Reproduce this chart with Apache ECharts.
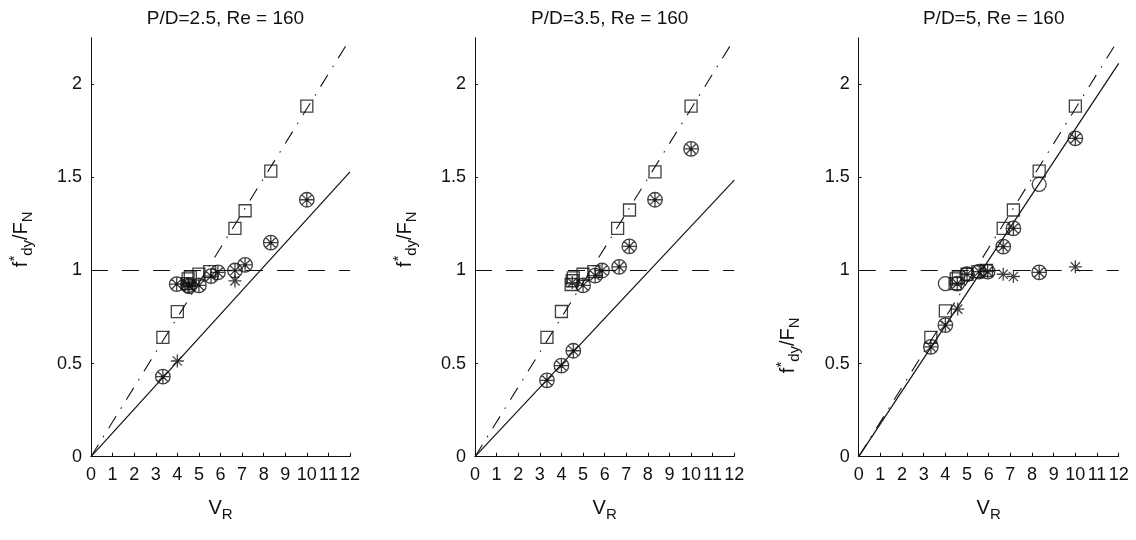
<!DOCTYPE html>
<html>
<head>
<meta charset="utf-8">
<script src="https://cdn.jsdelivr.net/npm/echarts@6/dist/echarts.min.js"></script>
<style>
html,body{margin:0;padding:0;background:#fff;}
#chart{width:1136px;height:540px;}
</style>
</head>
<body>
<div id="chart"></div>
<script>
// ---------- data ----------
const titles = ['P/D=2.5, Re = 160', 'P/D=3.5, Re = 160', 'P/D=5, Re = 160'];
const yTickValues = [0, 0.5, 1, 1.5, 2];

// open squares
const squares1 = [[3.33,0.641],[4.0,0.779],[4.45,0.93],[4.5,0.955],[4.6,0.965],[5.0,0.981],[5.5,0.994],[6.67,1.226],[7.14,1.321],[8.33,1.534],[10.0,1.883]];
const squares2 = [[3.33,0.641],[4.0,0.78],[4.45,0.925],[4.5,0.945],[4.55,0.96],[5.0,0.98],[5.5,0.994],[6.6,1.226],[7.15,1.325],[8.33,1.53],[10.0,1.883]];
const squares3 = [[3.33,0.641],[4.0,0.783],[4.45,0.93],[4.5,0.955],[4.6,0.965],[5.0,0.98],[5.5,0.994],[5.9,1.0],[6.67,1.226],[7.14,1.325],[8.33,1.534],[10.0,1.883]];

// circles with asterisk
const starCircles1 = [[3.33,0.43],[3.97,0.927],[4.5,0.92],[4.55,0.915],[5.0,0.92],[5.56,0.97],[5.88,0.99],[6.67,1.0],[7.14,1.03],[8.33,1.15],[10.0,1.38]];
const starCircles2 = [[3.33,0.41],[4.0,0.489],[4.55,0.569],[5.0,0.92],[5.56,0.973],[5.88,1.0],[6.67,1.02],[7.14,1.13],[8.33,1.38],[10.0,1.653]];
const starCircles3 = [[3.33,0.59],[4.0,0.707],[4.55,0.93],[5.0,0.98],[5.56,0.994],[5.95,0.994],[6.67,1.128],[7.14,1.226],[8.33,0.99],[10.0,1.71]];

// asterisks
const asterisks1 = [[4.0,0.514],[4.5,0.93],[6.67,0.944]];
const asterisks2 = [[4.5,0.935]];
const asterisks3 = [[4.57,0.793],[6.67,0.98],[7.14,0.968],[10.0,1.02]];

// open circles
const circles1 = [];
const circles2 = [];
const circles3 = [[4.0,0.93],[8.33,1.463]];

// reference lines: solid fit, dash-dot, and f*/FN = 1
const solidLine1 = [[0,0],[12,1.53]];
const solidLine2 = [[0,0],[12,1.486]];
const solidLine3 = [[0,0],[12,2.113]];
const dashDotLine = [[0,0],[12,2.243]];
const unityLine = [[0,1],[12,1]];

// ---------- chart ----------
const FONT = 'Liberation Sans, Arial, sans-serif';
const INK = '#111111';
const grids = [
  {left: 91, width: 259, top: 37.8, height: 418.9},
  {left: 475, width: 259.3, top: 37.8, height: 418.9},
  {left: 858.7, width: 260, top: 37.8, height: 418.9}
];

const STAR_CIRCLE = 'path://M10,0A10,10,0,1,1,10,20A10,10,0,1,1,10,0Z M10,0L10,20 M0,10L20,10 M2.93,2.93L17.07,17.07 M17.07,2.93L2.93,17.07';
const ASTERISK = 'path://M10,0L10,20 M0,10L20,10 M2.9,2.9L17.1,17.1 M17.1,2.9L2.9,17.1';

const panels = [
  {sq: squares1, sc: starCircles1, as: asterisks1, ci: circles1, solid: solidLine1},
  {sq: squares2, sc: starCircles2, as: asterisks2, ci: circles2, solid: solidLine2},
  {sq: squares3, sc: starCircles3, as: asterisks3, ci: circles3, solid: solidLine3}
];

const option = {
  backgroundColor: '#fff',
  animation: false,
  textStyle: {fontFamily: FONT, color: INK},
  title: grids.map((g, i) => ({
    text: titles[i],
    left: g.left + g.width / 2,
    textAlign: 'center',
    top: 4,
    textStyle: {fontFamily: FONT, fontSize: 19, fontWeight: 'normal', color: INK}
  })),
  grid: grids,
  xAxis: grids.map((g, i) => ({
    type: 'value', gridIndex: i, min: 0, max: 12, interval: 1,
    name: '{v|V}{s|R}', nameLocation: 'middle', nameGap: 42,
    nameTextStyle: {rich: {
      v: {fontSize: 20, fontFamily: FONT, color: INK, verticalAlign: 'top', lineHeight: 24},
      s: {fontSize: 15, fontFamily: FONT, color: INK, verticalAlign: 'bottom', lineHeight: 24, padding: [11,0,0,0]}
    }},
    axisLine: {show: true, lineStyle: {color: INK, width: 1}},
    axisTick: {show: true, inside: true, length: 4, lineStyle: {color: INK}},
    axisLabel: {fontSize: 18, fontFamily: FONT, color: INK, margin: 9},
    splitLine: {show: false}
  })),
  yAxis: grids.map((g, i) => ({
    type: 'value', gridIndex: i, min: 0, max: 2.25, interval: 0.25,
    name: '{f|f}{p|*}{s|dy}{f|/F}{s|N}', nameLocation: 'middle', nameGap: 56, nameRotate: 90,
    nameTextStyle: {
      padding: i === 2 ? [0, 196, 0, 0] : [0, 0, 0, 16],
      rich: {
        f: {fontSize: 20, fontFamily: FONT, color: INK, lineHeight: 28},
        p: {fontSize: 15, fontFamily: FONT, color: INK, verticalAlign: 'top', lineHeight: 28},
        s: {fontSize: 15, fontFamily: FONT, color: INK, verticalAlign: 'bottom', lineHeight: 28, padding: [11,0,0,0]}
      }
    },
    axisLine: {show: true, lineStyle: {color: INK, width: 1}},
    axisTick: {show: true, inside: true, length: 3, lineStyle: {color: INK}, customValues: yTickValues},
    axisLabel: {fontSize: 18, fontFamily: FONT, color: INK, margin: 9, customValues: yTickValues},
    splitLine: {show: false}
  })),
  series: []
};

panels.forEach((p, i) => {
  const base = {xAxisIndex: i, yAxisIndex: i, silent: true};
  option.series.push(
    Object.assign({}, base, {type: 'line', data: unityLine, showSymbol: false, symbol: 'none',
      lineStyle: {color: INK, width: 1.1, type: [17, 14]}}),
    Object.assign({}, base, {type: 'line', data: dashDotLine, showSymbol: false, symbol: 'none',
      lineStyle: {color: INK, width: 1.1, type: [14, 9, 1.5, 9]}}),
    Object.assign({}, base, {type: 'line', data: p.solid, showSymbol: false, symbol: 'none',
      lineStyle: {color: INK, width: 1.2, type: 'solid'}}),
    Object.assign({}, base, {type: 'scatter', data: p.sq, symbol: 'rect', symbolSize: 12,
      itemStyle: {color: 'rgba(255,255,255,0)', borderColor: INK, borderWidth: 1.3}}),
    Object.assign({}, base, {type: 'scatter', data: p.ci, symbol: 'circle', symbolSize: 14,
      itemStyle: {color: 'rgba(255,255,255,0)', borderColor: INK, borderWidth: 1.3}}),
    Object.assign({}, base, {type: 'scatter', data: p.sc, symbol: STAR_CIRCLE, symbolSize: 14.5,
      itemStyle: {color: 'rgba(255,255,255,0)', borderColor: INK, borderWidth: 1.3}}),
    Object.assign({}, base, {type: 'scatter', data: p.sc, symbol: 'circle', symbolSize: 3,
      itemStyle: {color: INK}}),
    Object.assign({}, base, {type: 'scatter', data: p.as, symbol: ASTERISK, symbolSize: 13,
      itemStyle: {color: 'rgba(255,255,255,0)', borderColor: INK, borderWidth: 1.3}})
  );
});

const chart = echarts.init(document.getElementById('chart'), null, {renderer: 'canvas'});
chart.setOption(option);
</script>
</body>
</html>
